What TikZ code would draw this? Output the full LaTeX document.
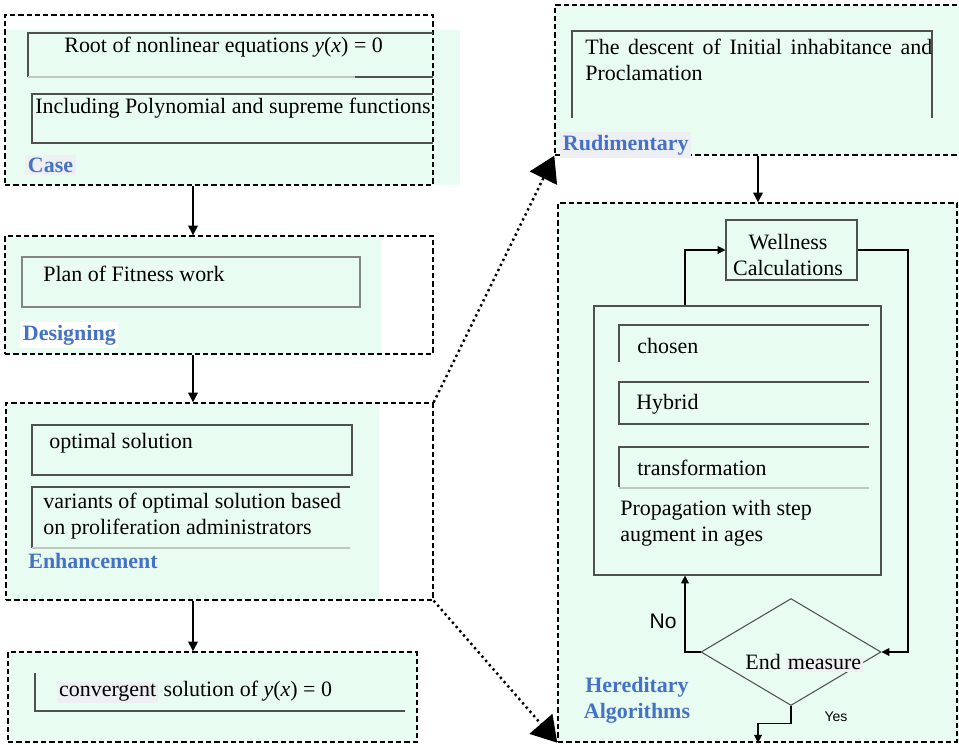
\documentclass[tikz,border=0pt]{standalone}
\usepackage{fontspec}
\setmainfont{Liberation Serif}
\newfontfamily\labelsans{Liberation Sans}
\usepackage{xcolor}
\definecolor{Mint}{RGB}{233,252,241}
\definecolor{Blue}{RGB}{68,114,196}
\definecolor{Shade}{RGB}{238,239,242}
\definecolor{Frame}{RGB}{80,80,80}
\definecolor{Faint}{RGB}{190,200,195}
\definecolor{Black}{RGB}{0,0,0}
\definecolor{White}{RGB}{255,255,255}
\newcommand{\hlword}[1]{{\setlength{\fboxsep}{1pt}\colorbox{Shade}{#1}}}
\usetikzlibrary{fit,shapes.geometric,arrows.meta}

\begin{document}
\begin{tikzpicture}[x=0.02cm, y=-0.02cm,
	dashbox/.style={draw=Black, line width=0.8pt, dash pattern=on 3pt off 1.7pt, inner sep=0pt},
	solidbox/.style={draw=Frame, line width=0.6pt, inner sep=0pt},
	txt/.style={inner sep=0pt, anchor=west, font=\fontsize{12.5}{15}\selectfont},
	tag/.style={txt, font=\fontsize{12.5}{15}\selectfont\bfseries, text=Blue},
	frameline/.style={draw=Frame, line width=0.6pt},
	faintline/.style={draw=Faint, line width=0.6pt},
	arr/.style={draw=Black, line width=0.7pt, -{Triangle[length=5.5pt,width=5.5pt]}},
	smallarr/.style={draw=Black, line width=0.6pt, -{Triangle[length=4.5pt,width=4.5pt]}},
	dotarr/.style={draw=Black, line width=1.4pt, dash pattern=on 1.3pt off 1.9pt, -{Triangle[length=0.5cm,width=0.6cm]}}]
		
		\useasboundingbox (0,0) rectangle (959,744);
		
		% Background
		\fill[Mint] (5,30) rectangle (460,185);
		\fill[Mint] (5,236) rectangle (381,354);
		\fill[Mint] (6,403) rectangle (379,600);
		\fill[Mint] (8,652) rectangle (417,742);
		\fill[Mint] (555,5) rectangle (959,155);
		\fill[Mint] (558,203) rectangle (959,742);
		
		% Rectangle
		\node[dashbox, fit={(5,15) (433,185)}] (case) {};
		\node[dashbox, fit={(5,236) (433,354)}] (design) {};
		\node[dashbox, fit={(6,403) (433,600)}] (enhance) {};
		\node[dashbox, fit={(8,652) (417,742)}] (conv) {};
		\node[dashbox, fit={(555,5) (970,155)}] (rud) {};
		\node[dashbox, fit={(558,203) (957,742)}] (hered) {};
		
		\node[solidbox, fit={(726,220) (857,280)}] (well) {};
		\node[solidbox, fit={(594,306) (881,575)}] (prop) {};
		\node[draw=Frame, line width=0.6pt, diamond, minimum width=3.6cm, minimum height=2.14cm, inner sep=0pt] (dia) at (791,652) {};
		
		% Inner frames
		\draw[frameline] (433,33) -- (28,33) -- (28,77);
		\draw[faintline] (28,77) -- (355,77);
		\draw[frameline] (355,77) -- (433,77);
		\draw[frameline] (433,94) -- (32,94) -- (32,143) -- (433,143);
		
		\draw[draw=Frame!70, line width=0.6pt] (22,257) rectangle (360,307);
		
		\draw[frameline] (32,425) rectangle (352,475);
		\draw[frameline] (350,487) -- (32,487) -- (32,548);
		\draw[faintline] (32,548) -- (350,548);
		
		\draw[frameline] (35,673) -- (35,711) -- (405,711);
		
		\draw[frameline] (572,118) -- (572,31) -- (932,31) -- (932,118);
		
		\draw[frameline] (869,325) -- (619,325) -- (619,362);
		\draw[frameline] (869,382) -- (619,382) -- (619,424) -- (869,424);
		\draw[frameline] (869,447) -- (619,447) -- (619,487);
		\draw[faintline] (619,488) -- (869,488);
		
		% Text
		\node[txt] (roottxt) at (64,47) {Root of nonlinear equations \textit{y}(\textit{x}) = 0};
		\node[txt] (incltxt) at (35,108) {Including Polynomial and supreme functions};
		\node[tag, fill=Shade, inner sep=1.5pt] (casetag) at (25,165) {Case};
		
		\node[txt] (plantxt) at (43,274) {Plan of Fitness work};
		\node[tag, fill=White, inner sep=1.5pt] (designtag) at (20,335) {Designing};
		
		\node[txt] (opttxt) at (49,443) {optimal solution};
		\node[txt, align=left] (vartxt) at (43,516) {variants of optimal solution based\\on proliferation administrators};
		\node[tag] (enhancetag) at (28,561) {Enhancement};
		
		\node[txt] (convtxt) at (57,692) {\hlword{convergent} solution of \textit{y}(\textit{x}) = 0};
		
		\node[txt, align=left] (desctxt) at (585,60) {\makebox[6.94cm][s]{The descent of Initial inhabitance and}\\Proclamation};
		\node[tag, fill=Shade, inner sep=1.5pt] (rudtag) at (560,145) {Rudimentary};
		
		\node[txt, anchor=center, align=center] (welltxt) at (788,255) {Wellness\\Calculations};
		\node[txt] (chosentxt) at (637,346) {chosen};
		\node[txt] (hybridtxt) at (636,404) {Hybrid};
		\node[txt] (transtxt) at (637,468) {transformation};
		\node[txt, align=left] (proptxt) at (620,523) {Propagation with step\\augment in ages};
		\node[txt] (endtxt) at (745,663) {End \hlword{measure}};
		\node[tag, anchor=center, align=center] (heredtag) at (637,700) {Hereditary\\Algorithms};
		\node[txt, anchor=center, font=\labelsans\fontsize{12}{14}\selectfont] (notxt) at (663,621) {No};
		\node[txt, anchor=center, font=\labelsans\fontsize{8}{10}\selectfont] (yestxt) at (836,717) {Yes};
		
		% Flows
		\coordinate (colL) at (193,0);
		\coordinate (colM) at (758,0);
		\coordinate (colW) at (685,0);
		\coordinate (colR) at (908,0);
		\draw[arr] (case.south -| colL) -- (design.north -| colL);
		\draw[arr] (design.south -| colL) -- (enhance.north -| colL);
		\draw[arr] (enhance.south -| colL) -- (conv.north -| colL);
		\draw[arr] (rud.south -| colM) -- (hered.north -| colM);
		
		\draw[smallarr] (prop.north -| colW) |- (well.west);
		\draw[smallarr] (well.east) -| (colR |- dia.east) -- (dia.east);
		\draw[smallarr] (dia.west) -| (prop.south -| colW);
		\draw[smallarr] (dia.south) -- ++(0,17) -| (hered.south -| colM);
		
		% Exchanged
		\draw[dotarr] (enhance.north east) -- (rud.south west);
		\draw[dotarr] (enhance.south east) -- (hered.south west);
		
	\end{tikzpicture}
\end{document}
